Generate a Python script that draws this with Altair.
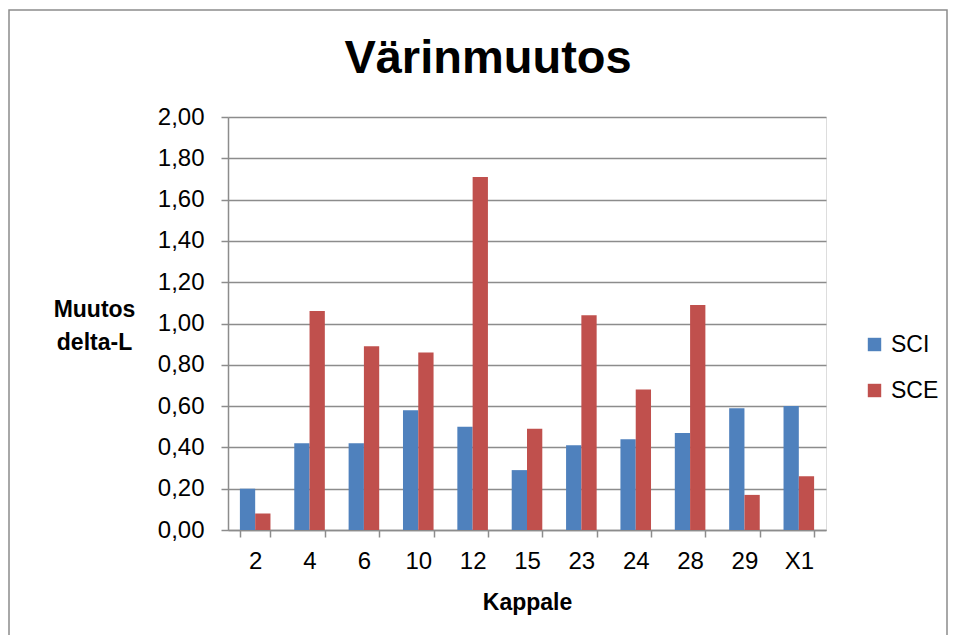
import altair as alt
import pandas as pd

categories = ["2", "4", "6", "10", "12", "15", "23", "24", "28", "29", "X1"]
sci = [0.20, 0.42, 0.42, 0.58, 0.50, 0.29, 0.41, 0.44, 0.47, 0.59, 0.60]
sce = [0.08, 1.06, 0.89, 0.86, 1.71, 0.49, 1.04, 0.68, 1.09, 0.17, 0.26]
series = ["SCI", "SCE"]
colors = ["#4F81BD", "#C0504D"]

rows = []
for i, c in enumerate(categories):
    rows.append({"Kappale": c, "Sarja": "SCI", "Arvo": sci[i]})
    rows.append({"Kappale": c, "Sarja": "SCE", "Arvo": sce[i]})
df = pd.DataFrame(rows)

FONT = "Liberation Sans"
W, H = 598, 413

bars = alt.Chart(df).mark_bar().encode(
    x=alt.X("Kappale:N", sort=categories,
            scale=alt.Scale(paddingInner=0.4375, paddingOuter=0.21875),
            axis=alt.Axis(title="Kappale", labelAngle=0, labelFontSize=24,
                          labelColor="black", labelFont=FONT, labelPadding=12,
                          tickBand="extent", tickSize=7, tickColor="#8c8c8c",
                          tickWidth=1.5, domainColor="#8c8c8c", domainWidth=1.5,
                          titleFontSize=23, titleFont=FONT, titleFontWeight="bold",
                          titleColor="black", titlePadding=18, grid=False)),
    xOffset=alt.XOffset("Sarja:N", sort=series, scale=alt.Scale(paddingInner=0, paddingOuter=0)),
    y=alt.Y("Arvo:Q", scale=alt.Scale(domain=[0, 2], nice=False),
            axis=alt.Axis(values=[0, 0.2, 0.4, 0.6, 0.8, 1.0, 1.2, 1.4, 1.6, 1.8, 2.0],
                          labelExpr="replace(format(datum.value, '.2f'), '.', ',')",
                          labelFontSize=24, labelColor="black", labelFont=FONT,
                          labelPadding=17, tickSize=7, tickColor="#8c8c8c", tickWidth=1.5,
                          domainColor="#8c8c8c", domainWidth=1.5,
                          gridColor="#8c8c8c", gridWidth=1.5,
                          title=["Muutos", "delta-L"], titleAngle=0,
                          titleAlign="center", titleBaseline="middle",
                          titleX=-134, titleY=192, titleFontSize=23, titleFont=FONT,
                          titleFontWeight="bold", titleColor="black", titleLineHeight=33)),
    color=alt.Color("Sarja:N", sort=series,
                    scale=alt.Scale(domain=series, range=colors),
                    legend=alt.Legend(title=None, orient="none", legendX=635, legendY=216,
                                      symbolType="square", symbolSize=180,
                                      symbolStrokeWidth=0, labelFontSize=23,
                                      labelFont=FONT, labelColor="black",
                                      rowPadding=22, labelOffset=5)),
)

border = alt.Chart(alt.Data(values=[{}])).mark_rect(
    fill=None, stroke="#8c8c8c", strokeWidth=1.5
).encode(
    x=alt.value(-219), x2=alt.value(719),
    y=alt.value(-107), y2=alt.value(H + 200),
)

chart = alt.layer(border, bars).properties(
    width=W, height=H,
    title=alt.TitleParams("Värinmuutos", fontSize=47, font=FONT, fontWeight="bold",
                          color="black", anchor="middle", frame="group",
                          baseline="alphabetic", dx=-39, dy=111, offset=0),
    autosize=alt.AutoSizeParams(type="none"),
    padding={"left": 220, "top": 109, "right": 122, "bottom": 105},
).configure_view(stroke=None).configure(background="white")

chart.save("out.html", embed_options={"renderer": "svg", "actions": False})
